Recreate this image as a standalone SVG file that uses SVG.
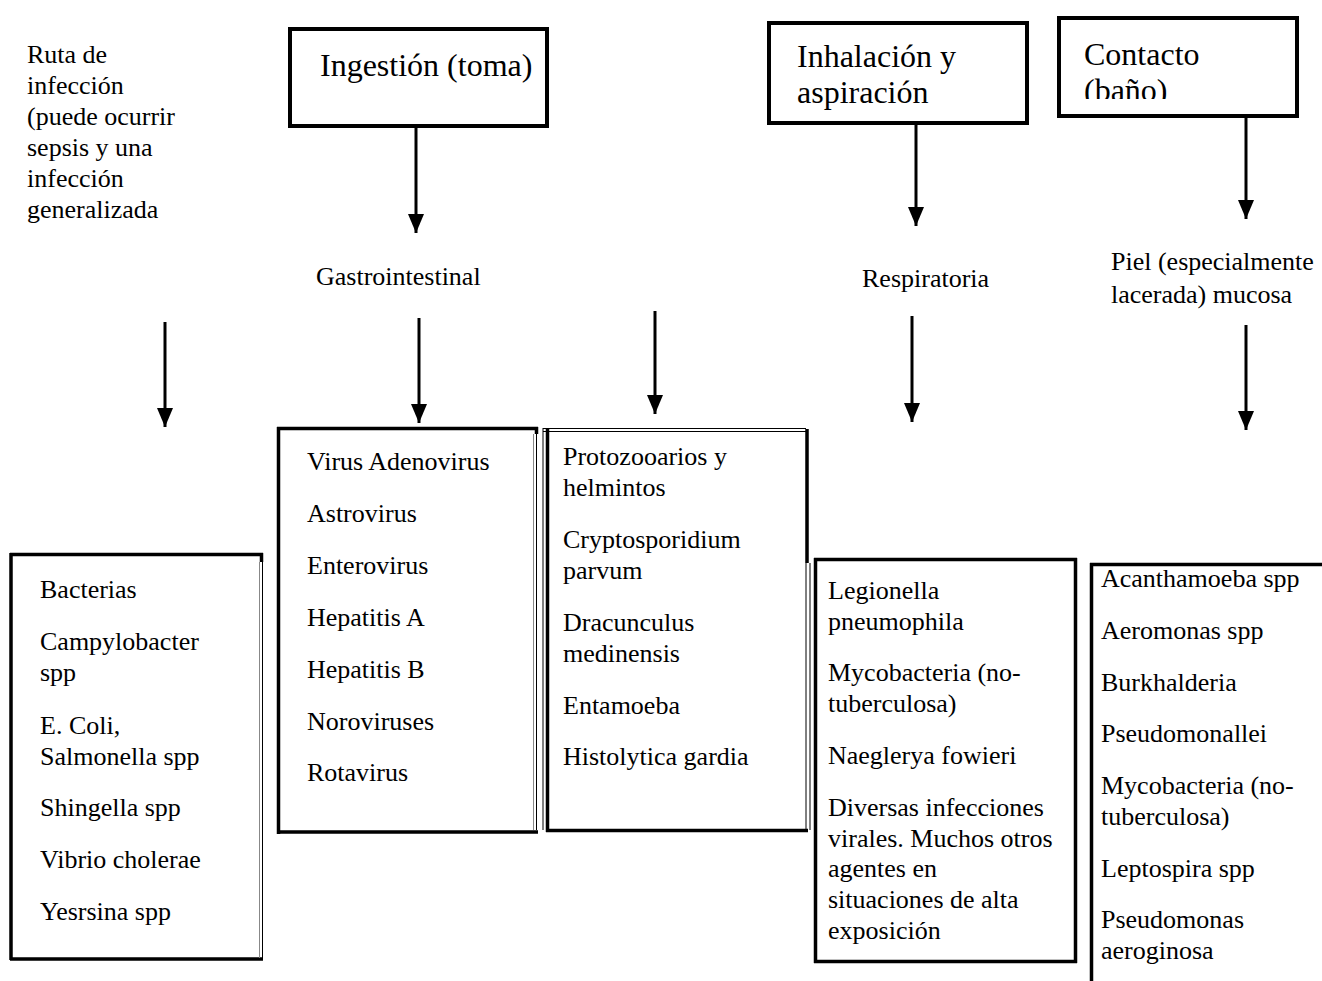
<svg xmlns="http://www.w3.org/2000/svg" width="1322" height="981" viewBox="0 0 1322 981">
<style>
text{font-family:"Liberation Serif","Times New Roman",serif;fill:#000}
.t{font-size:26px}
.h{font-size:32px}
.hb{fill:#fff;stroke:#000;stroke-width:4}
.thick{stroke:#000;stroke-width:3.5;fill:none}
.thin{stroke:#000;stroke-width:1;fill:none}
.grey{stroke:#888;stroke-width:1;fill:none}
.arr{stroke:#000;stroke-width:3;fill:none}
</style>
<defs>
<marker id="ah" markerUnits="userSpaceOnUse" markerWidth="20" markerHeight="16" refX="19" refY="8" orient="auto" viewBox="0 0 20 16">
<polygon points="0,0 19,8 0,16" fill="#000"/>
</marker>
<clipPath id="cclip"><rect x="1058" y="17" width="240" height="82"/></clipPath>
</defs>
<rect width="1322" height="981" fill="#fff"/>

<g id="ruta">
<text class="t" x="27" y="63">Ruta de</text>
<text class="t" x="27" y="94">infección</text>
<text class="t" x="27" y="125">(puede ocurrir</text>
<text class="t" x="27" y="156">sepsis y una</text>
<text class="t" x="27" y="187">infección</text>
<text class="t" x="27" y="218">generalizada</text>
</g>

<g id="ingestion">
<rect class="hb" x="290" y="29" width="257" height="97"/>
<text class="h" x="320" y="76">Ingestión (toma)</text>
</g>

<g id="inhalacion">
<rect class="hb" x="769" y="23" width="258" height="100"/>
<text class="h" x="797" y="67">Inhalación y</text>
<text class="h" x="797" y="103">aspiración</text>
</g>

<g id="contacto">
<rect class="hb" x="1059" y="18" width="238" height="98"/>
<g clip-path="url(#cclip)">
<text class="h" x="1084" y="65">Contacto</text>
<text class="h" x="1084" y="101">(baño)</text>
</g>
</g>

<g id="gastro"><text class="t" x="316" y="285">Gastrointestinal</text></g>
<g id="respiratoria"><text class="t" x="862" y="287">Respiratoria</text></g>
<g id="piel">
<text class="t" x="1111" y="270">Piel (especialmente</text>
<text class="t" x="1111" y="303">lacerada) mucosa</text>
</g>

<g id="connectors">
<line class="arr" x1="416" y1="128" x2="416" y2="233" marker-end="url(#ah)"/>
<line class="arr" x1="916" y1="125" x2="916" y2="226" marker-end="url(#ah)"/>
<line class="arr" x1="1246" y1="118" x2="1246" y2="219" marker-end="url(#ah)"/>
<line class="arr" x1="165" y1="322" x2="165" y2="427" marker-end="url(#ah)"/>
<line class="arr" x1="419" y1="318" x2="419" y2="423" marker-end="url(#ah)"/>
<line class="arr" x1="655" y1="311" x2="655" y2="414" marker-end="url(#ah)"/>
<line class="arr" x1="912" y1="316" x2="912" y2="422" marker-end="url(#ah)"/>
<line class="arr" x1="1246" y1="325" x2="1246" y2="430" marker-end="url(#ah)"/>
</g>

<g id="bacterias">
<path class="thick" d="M11,553 V960 M10,554.5 H263 M10,959 H263 M261.5,553 V562"/>
<path class="grey" d="M259.5,562 V958"/>
<path class="thin" d="M262.5,562 V958"/>
<text class="t" x="40" y="598">Bacterias</text>
<text class="t" x="40" y="650">Campylobacter</text>
<text class="t" x="40" y="681">spp</text>
<text class="t" x="40" y="734">E. Coli,</text>
<text class="t" x="40" y="765">Salmonella spp</text>
<text class="t" x="40" y="816">Shingella spp</text>
<text class="t" x="40" y="868">Vibrio cholerae</text>
<text class="t" x="40" y="920">Yesrsina spp</text>
</g>

<g id="virus">
<path class="thick" d="M278.5,427 V834 M277,428.5 H538 M277,832 H538 M536.5,427 V434"/>
<path class="grey" d="M533.5,434 V830"/>
<path class="thin" d="M536.5,434 V830"/>
<text class="t" x="307" y="470">Virus Adenovirus</text>
<text class="t" x="307" y="522">Astrovirus</text>
<text class="t" x="307" y="574">Enterovirus</text>
<text class="t" x="307" y="626">Hepatitis A</text>
<text class="t" x="307" y="678">Hepatitis B</text>
<text class="t" x="307" y="730">Noroviruses</text>
<text class="t" x="307" y="781">Rotavirus</text>
</g>

<g id="protozoos">
<path class="thin" d="M543,428.5 H806 M543,431.5 H806 M543,428 V830"/>
<path class="thick" d="M547.5,429 V832 M546,830.5 H808 M807,429 V563"/>
<path class="thin" d="M806,563 V830 M810,563 V830"/>
<text class="t" x="563" y="465">Protozooarios y</text>
<text class="t" x="563" y="496">helmintos</text>
<text class="t" x="563" y="548">Cryptosporidium</text>
<text class="t" x="563" y="579">parvum</text>
<text class="t" x="563" y="631">Dracunculus</text>
<text class="t" x="563" y="662">medinensis</text>
<text class="t" x="563" y="714">Entamoeba</text>
<text class="t" x="563" y="765">Histolytica gardia</text>
</g>

<g id="respiratorios">
<path class="thick" d="M815.5,558 V963 M814,559.5 H1077 M1075.5,558 V963 M814,961.5 H1077"/>
<text class="t" x="828" y="599">Legionella</text>
<text class="t" x="828" y="630">pneumophila</text>
<text class="t" x="828" y="681">Mycobacteria (no-</text>
<text class="t" x="828" y="712">tuberculosa)</text>
<text class="t" x="828" y="764">Naeglerya fowieri</text>
<text class="t" x="828" y="816">Diversas infecciones</text>
<text class="t" x="828" y="847">virales. Muchos otros</text>
<text class="t" x="828" y="877">agentes en</text>
<text class="t" x="828" y="908">situaciones de alta</text>
<text class="t" x="828" y="939">exposición</text>
</g>

<g id="piel-agentes">
<path class="thick" d="M1091.5,563 V981 M1090,564.5 H1322"/>
<text class="t" x="1101" y="587">Acanthamoeba spp</text>
<text class="t" x="1101" y="639">Aeromonas spp</text>
<text class="t" x="1101" y="691">Burkhalderia</text>
<text class="t" x="1101" y="742">Pseudomonallei</text>
<text class="t" x="1101" y="794">Mycobacteria (no-</text>
<text class="t" x="1101" y="825">tuberculosa)</text>
<text class="t" x="1101" y="877">Leptospira spp</text>
<text class="t" x="1101" y="928">Pseudomonas</text>
<text class="t" x="1101" y="959">aeroginosa</text>
</g>
</svg>
